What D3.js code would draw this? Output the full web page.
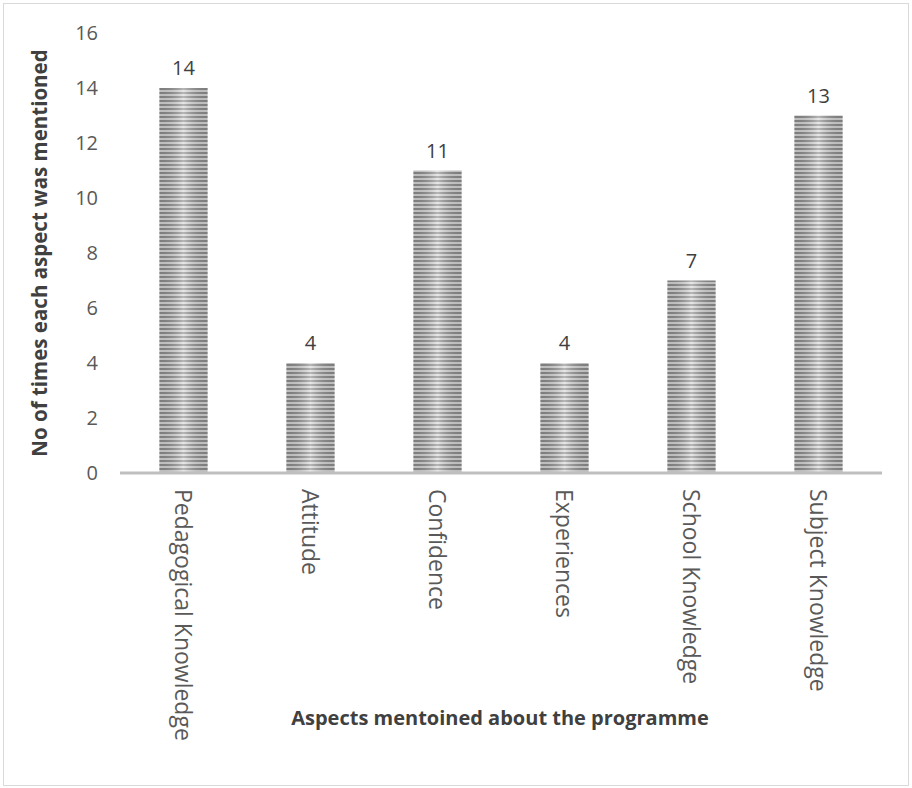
<!DOCTYPE html>
<html>
<head>
<meta charset="utf-8">
<script src="https://cdn.jsdelivr.net/npm/d3@7"></script>
<style>
  html, body { margin: 0; padding: 0; background: #fff; }
  svg { display: block; }
</style>
</head>
<body>
<script>
// Aspects mentioned about the programme and how often each came up
const categories = ["Pedagogical Knowledge", "Attitude", "Confidence", "Experiences", "School Knowledge", "Subject Knowledge"];
const counts = [14, 4, 11, 4, 7, 13];
const yTicks = [0, 2, 4, 6, 8, 10, 12, 14, 16];

const W = 912, H = 788;
const margin = { left: 120, top: 33 };
const plotRight = 882, plotBottom = 473;
const FONT = "'Open Sans', 'Liberation Sans', Arial, sans-serif";

const svg = d3.select("body").append("svg").attr("width", W).attr("height", H);
const defs = svg.append("defs");

// horizontal stripe fill
const pat = defs.append("pattern")
  .attr("id", "stripes").attr("patternUnits", "userSpaceOnUse")
  .attr("width", 8).attr("height", 4);
pat.append("rect").attr("width", 8).attr("height", 4).attr("fill", "#d9d9d9");
pat.append("rect").attr("y", 0).attr("width", 8).attr("height", 2).attr("fill", "#8f8f8f");

// soft shading across each bar: darker at the sides, lighter in the middle
const grad = defs.append("linearGradient").attr("id", "shade")
  .attr("x1", "0").attr("x2", "1").attr("y1", "0").attr("y2", "0");
grad.append("stop").attr("offset", "0%").attr("stop-color", "#000").attr("stop-opacity", 0.12);
grad.append("stop").attr("offset", "50%").attr("stop-color", "#fff").attr("stop-opacity", 0.35);
grad.append("stop").attr("offset", "100%").attr("stop-color", "#000").attr("stop-opacity", 0.12);

// chart frame
svg.append("rect").attr("x", 3.5).attr("y", 3.5).attr("width", W - 7).attr("height", H - 6)
  .attr("fill", "#fff").attr("stroke", "#d9d9d9").attr("stroke-width", 1);

const x = d3.scaleBand().domain(categories).range([margin.left, plotRight]).paddingInner(0.62).paddingOuter(0.31);
const y = d3.scaleLinear().domain([0, 16]).range([plotBottom, margin.top]);

// y tick labels (no axis line)
const yAxis = svg.append("g").attr("transform", `translate(${margin.left},0)`)
  .call(d3.axisLeft(y).tickValues(yTicks).tickSize(0).tickPadding(22));
yAxis.select(".domain").remove();
yAxis.selectAll("text").attr("font-family", FONT)
  .attr("font-size", 20).attr("fill", "#595959");

// bars
const bars = svg.append("g");
bars.selectAll("rect.bar").data(counts).join("rect").attr("class", "bar")
  .attr("x", (d, i) => x(categories[i])).attr("width", x.bandwidth())
  .attr("y", d => y(d)).attr("height", d => y(0) - y(d))
  .attr("fill", "url(#stripes)");
bars.selectAll("rect.shade").data(counts).join("rect").attr("class", "shade")
  .attr("x", (d, i) => x(categories[i])).attr("width", x.bandwidth())
  .attr("y", d => y(d)).attr("height", d => y(0) - y(d))
  .attr("fill", "url(#shade)");

// value labels
svg.append("g").selectAll("text").data(counts).join("text")
  .attr("x", (d, i) => x(categories[i]) + x.bandwidth() / 2)
  .attr("y", d => y(d) - 13)
  .attr("text-anchor", "middle")
  .attr("font-family", FONT)
  .attr("font-size", 20).attr("fill", "#404040")
  .text(d => d);

// x axis baseline and category labels
const xAxis = svg.append("g").attr("transform", `translate(0,${plotBottom})`)
  .call(d3.axisBottom(x).tickSize(0).tickPadding(0));
xAxis.select(".domain").attr("stroke", "#bfbfbf").attr("stroke-width", 3)
  .attr("d", `M${margin.left},0H${plotRight}`);
xAxis.selectAll(".tick text")
  .attr("font-family", FONT)
  .attr("font-size", 23).attr("fill", "#595959")
  .attr("text-anchor", "start").attr("dy", null)
  .attr("transform", "translate(-9,16) rotate(90)")
  .attr("x", 0).attr("y", 0);

// axis titles
svg.append("text")
  .attr("transform", `translate(47,${(plotBottom + margin.top) / 2}) rotate(-90)`)
  .attr("text-anchor", "middle")
  .attr("font-family", FONT)
  .attr("font-size", 20.5).attr("font-weight", "bold").attr("fill", "#404040")
  .text("No of times each aspect was mentioned");

svg.append("text")
  .attr("x", 500).attr("y", 725)
  .attr("text-anchor", "middle")
  .attr("font-family", FONT)
  .attr("font-size", 20).attr("font-weight", "bold").attr("fill", "#404040")
  .text("Aspects mentoined about the programme");
</script>
</body>
</html>
